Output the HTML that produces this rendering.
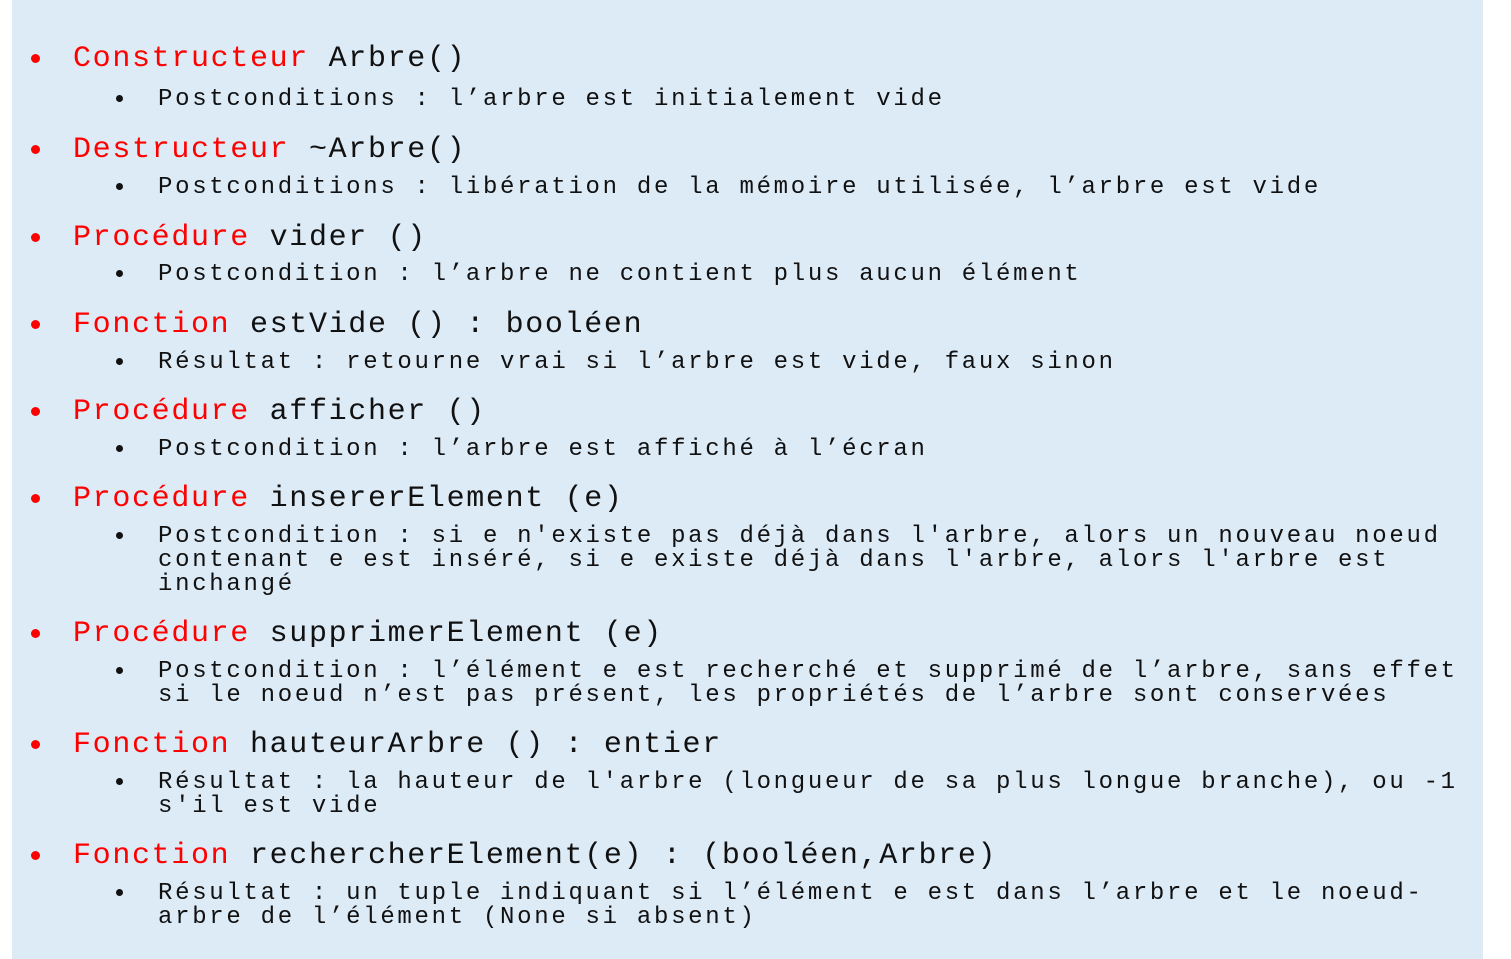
<!DOCTYPE html>
<html><head><meta charset="utf-8"><style>
html,body{margin:0;padding:0;background:#fff;}
#bg{position:absolute;left:12px;top:0;width:1471px;height:959px;background:#DDEBF7;}
.l{position:absolute;white-space:pre;font-family:"Liberation Mono","Courier New",monospace;color:#111;}
.m{font-size:30px;letter-spacing:1.66px;height:34px;line-height:34px;left:73px;}
.s{font-size:24px;letter-spacing:2.7px;height:24px;line-height:24px;left:158px;}
.r{color:#f00;}
.bm{position:absolute;width:9px;height:9px;border-radius:50%;background:#f00;left:31px;}
.bs{position:absolute;width:7px;height:7px;border-radius:50%;background:#111;left:116px;}
</style></head><body>
<div id="bg"></div>

<div class="bm" style="top:54px"></div><div class="l m" style="top:42px"><span class="r">Constructeur</span> Arbre()</div>
<div class="bs" style="top:95px"></div><div class="l s" style="top:88px">Postconditions : l’arbre est initialement vide</div>

<div class="bm" style="top:145px"></div><div class="l m" style="top:133px"><span class="r">Destructeur</span> ~Arbre()</div>
<div class="bs" style="top:183px"></div><div class="l s" style="top:176px">Postconditions : libération de la mémoire utilisée, l’arbre est vide</div>

<div class="bm" style="top:233px"></div><div class="l m" style="top:221px"><span class="r">Procédure</span> vider ()</div>
<div class="bs" style="top:270px"></div><div class="l s" style="top:263px">Postcondition : l’arbre ne contient plus aucun élément</div>

<div class="bm" style="top:320px"></div><div class="l m" style="top:308px"><span class="r">Fonction</span> estVide () : booléen</div>
<div class="bs" style="top:358px"></div><div class="l s" style="top:351px">Résultat : retourne vrai si l’arbre est vide, faux sinon</div>

<div class="bm" style="top:407px"></div><div class="l m" style="top:395px"><span class="r">Procédure</span> afficher ()</div>
<div class="bs" style="top:445px"></div><div class="l s" style="top:438px">Postcondition : l’arbre est affiché à l’écran</div>

<div class="bm" style="top:494px"></div><div class="l m" style="top:482px"><span class="r">Procédure</span> insererElement (e)</div>
<div class="bs" style="top:532px"></div><div class="l s" style="top:525px">Postcondition : si e n'existe pas déjà dans l'arbre, alors un nouveau noeud</div>
<div class="l s" style="top:549px">contenant e est inséré, si e existe déjà dans l'arbre, alors l'arbre est</div>
<div class="l s" style="top:573px">inchangé</div>

<div class="bm" style="top:629px"></div><div class="l m" style="top:617px"><span class="r">Procédure</span> supprimerElement (e)</div>
<div class="bs" style="top:667px"></div><div class="l s" style="top:660px">Postcondition : l’élément e est recherché et supprimé de l’arbre, sans effet</div>
<div class="l s" style="top:684px">si le noeud n’est pas présent, les propriétés de l’arbre sont conservées</div>

<div class="bm" style="top:740px"></div><div class="l m" style="top:728px"><span class="r">Fonction</span> hauteurArbre () : entier</div>
<div class="bs" style="top:778px"></div><div class="l s" style="top:771px">Résultat : la hauteur de l'arbre (longueur de sa plus longue branche), ou -1</div>
<div class="l s" style="top:795px">s'il est vide</div>

<div class="bm" style="top:851px"></div><div class="l m" style="top:839px"><span class="r">Fonction</span> rechercherElement(e) : (booléen,Arbre)</div>
<div class="bs" style="top:889px"></div><div class="l s" style="top:882px">Résultat : un tuple indiquant si l’élément e est dans l’arbre et le noeud-</div>
<div class="l s" style="top:906px">arbre de l’élément (None si absent)</div>
</body></html>
